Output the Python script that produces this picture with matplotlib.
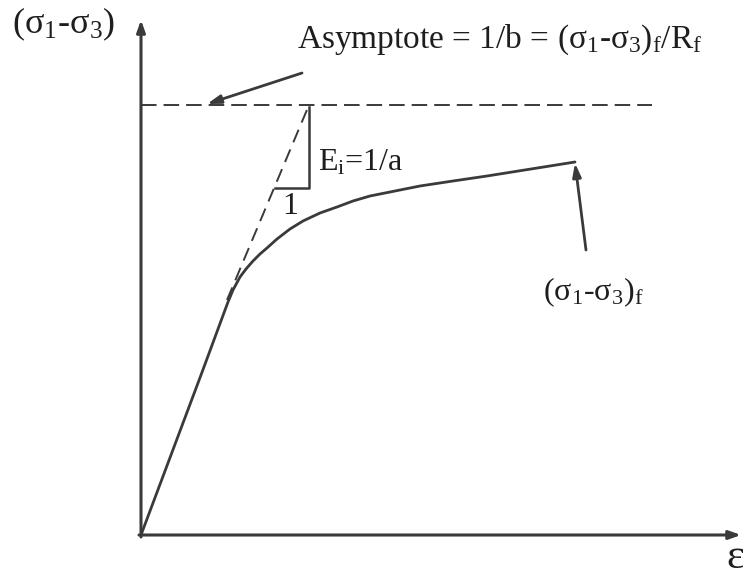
import matplotlib
matplotlib.use("Agg")
import matplotlib.pyplot as plt

plt.rcParams['font.family'] = ['Liberation Serif', 'DejaVu Serif']
plt.rcParams['mathtext.fontset'] = 'custom'
plt.rcParams['mathtext.rm'] = 'Liberation Serif'
plt.rcParams['mathtext.it'] = 'Liberation Serif:italic'

# Stress-strain curve (strain, deviator stress)
strain = [0.0, 0.30, 0.60, 0.87, 0.92, 0.99, 1.05, 1.12, 1.19, 1.26, 1.36,
          1.49, 1.62, 1.79, 1.96, 2.12, 2.29, 2.54, 2.79, 3.12, 3.46, 3.90, 4.34]
stress = [0.0, 0.80, 1.60, 2.33, 2.45, 2.58, 2.66, 2.74, 2.81, 2.87, 2.96,
          3.06, 3.14, 3.22, 3.28, 3.34, 3.39, 3.44, 3.49, 3.54, 3.59, 3.66, 3.73]

# Asymptote and initial tangent
asymptote = 4.30
asym_x = [0.0, 5.11]
tangent_x = [0.86, 1.68]
tangent_y = [2.35, 4.30]
# Slope triangle
tri_x = [1.34, 1.68, 1.68]
tri_y = [3.47, 3.47, 4.28]

fig = plt.figure(figsize=(7.43, 5.82), dpi=100)
ax = fig.add_axes([0, 0, 1, 1])
ax.set_xlim(-1.41, 6.02)
ax.set_ylim(-0.47, 5.35)
ax.axis('off')

lc = '#3a3a3a'
tc = '#1e1e1e'
sub = lambda s: r'$\mathregular{_{%s}}$' % s

# Axes with arrows
ax.annotate('', xy=(6.00, 0), xytext=(-0.02, 0),
            arrowprops=dict(arrowstyle='-|>,head_length=0.7,head_width=0.25',
                            color=lc, lw=2.2, shrinkA=0, shrinkB=0))
ax.annotate('', xy=(0, 5.15), xytext=(0, -0.02),
            arrowprops=dict(arrowstyle='-|>,head_length=0.7,head_width=0.25',
                            color=lc, lw=2.2, shrinkA=0, shrinkB=0))

ax.plot(strain, stress, color=lc, lw=2.0, solid_capstyle='round',
        solid_joinstyle='round')
ax.plot(asym_x, [asymptote, asymptote], color=lc, lw=1.4, dashes=(8, 3.6))
ax.plot(tangent_x, tangent_y, color=lc, lw=1.4, dashes=(7, 4))
ax.plot(tri_x, tri_y, color=lc, lw=1.8)

# Labels
ax.text(-1.29, 5.11, '(σ' + sub('1') + '-σ' + sub('3') + ')', fontsize=26,
        color=tc, ha='left', va='center')
ax.text(5.94, -0.23, 'ε', fontsize=31, color=tc, ha='center', va='center')
ax.text(1.56, 4.95, 'Asymptote = 1/b = (σ' + sub('1') + '-σ' + sub('3') + ')'
        + sub('f') + '/R' + sub('f'), fontsize=24, color=tc, ha='left', va='center')
ax.text(1.77, 3.72, 'E' + sub('i') + '=1/a', fontsize=23, color=tc,
        ha='left', va='center')
ax.text(1.49, 3.28, '1', fontsize=23, color=tc, ha='center', va='center')
ax.text(4.52, 2.43, '(σ' + sub('1') + '-σ' + sub('3') + ')' + sub('f'),
        fontsize=23, color=tc, ha='center', va='center')

# Pointer arrows
ax.annotate('', xy=(0.66, 4.31), xytext=(1.61, 4.62),
            arrowprops=dict(arrowstyle='-|>,head_length=0.8,head_width=0.25',
                            color=lc, lw=2.0, shrinkA=0, shrinkB=0))
ax.annotate('', xy=(4.34, 3.72), xytext=(4.45, 2.85),
            arrowprops=dict(arrowstyle='-|>,head_length=0.8,head_width=0.25',
                            color=lc, lw=2.0, shrinkA=0, shrinkB=0))

fig.savefig('out.png', dpi=100, facecolor='white')
